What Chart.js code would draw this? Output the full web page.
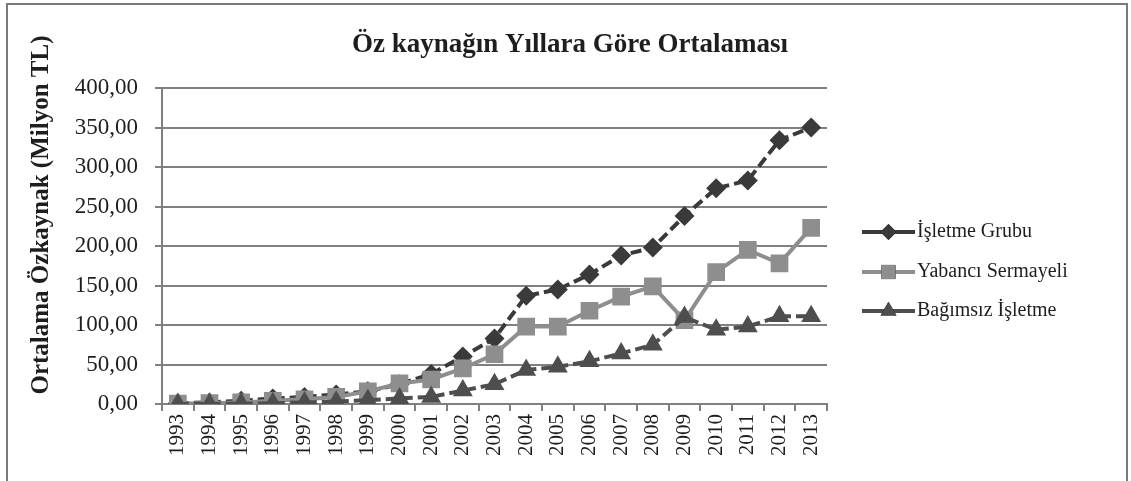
<!DOCTYPE html>
<html>
<head>
<meta charset="utf-8">
<script src="https://cdn.jsdelivr.net/npm/chart.js@4.4.1/dist/chart.umd.min.js"></script>
<style>
  body { margin: 0; background: #fff; }
  #frame { position: absolute; left: 6px; top: 3px; width: 1122px; height: 482px; border: 2px solid #7a7a7a; box-sizing: border-box; }
  #c { position: absolute; left: 0; top: 0; }
</style>
</head>
<body>
<div id="frame"></div>
<canvas id="c" width="1131" height="481"></canvas>
<script>
// ── Data ─────────────────────────────────────────
const years = ['1993','1994','1995','1996','1997','1998','1999','2000','2001','2002','2003',
               '2004','2005','2006','2007','2008','2009','2010','2011','2012','2013'];
const isletmeGrubu    = [1, 2, 4, 7, 9, 12, 16, 25, 38, 60, 83, 137, 145, 164, 188, 198, 238, 273, 283, 334, 350];
const yabanciSermaye  = [0.5, 1, 2, 4, 6, 9, 16, 26, 31, 45, 63, 98, 98, 118, 136, 149, 106, 167, 195, 178, 223];
const bagimsizIsletme = [0, 0, 0.5, 1, 2, 3, 5, 7, 9, 17, 25, 43, 47, 54, 64, 75, 110, 94, 98, 111, 111];
const seriesNames = ['İşletme Grubu', 'Yabancı Sermayeli', 'Bağımsız İşletme'];
const chartTitle = 'Öz kaynağın Yıllara Göre Ortalaması';
const yTitle = 'Ortalama Özkaynak (Milyon TL)';

const C = {
  dark:  '#3a3a3a',
  light: '#8e8e8e',
  mid:   '#4e4e4e',
  grid:  '#808080',
  text:  '#1e1e1e',
};
const SERIF = "'Liberation Serif', 'Times New Roman', serif";

// titles placed like the Excel original (not centred on the plot)
const titles = {
  id: 'titles',
  afterDraw(chart) {
    const ctx = chart.ctx;
    ctx.save();
    ctx.fillStyle = C.text;
    ctx.textAlign = 'center';
    ctx.textBaseline = 'middle';
    ctx.font = 'bold 27px ' + SERIF;
    ctx.fillText(chartTitle, 570, 45);
    ctx.translate(42, 215);
    ctx.rotate(-Math.PI / 2);
    ctx.font = 'bold 25px ' + SERIF;
    ctx.fillText(yTitle, 0, 0);
    ctx.restore();
  },
};

// legend drawn by hand: line + marker + label, like Excel
const sideLegend = {
  id: 'sideLegend',
  afterDraw(chart) {
    const ctx = chart.ctx;
    const x0 = 862, x1 = 915, rows = [232, 272, 311];
    chart.data.datasets.forEach((ds, i) => {
      const y = rows[i];
      ctx.save();
      ctx.strokeStyle = ds.borderColor;
      ctx.lineWidth = 4;
      ctx.beginPath(); ctx.moveTo(x0, y); ctx.lineTo(x1, y); ctx.stroke();
      Chart.helpers.drawPoint(ctx, {
        pointStyle: ds.pointStyle, radius: ds.pointRadius * 0.8, borderWidth: 0,
      }, (x0 + x1) / 2, y);
      ctx.fillStyle = ds.pointBackgroundColor;
      ctx.fill();
      ctx.fillStyle = C.text;
      ctx.font = '20px ' + SERIF;
      ctx.textBaseline = 'middle';
      ctx.fillText(ds.label, x1 + 2, y);
      ctx.restore();
    });
  },
};

new Chart(document.getElementById('c'), {
  type: 'line',
  data: {
    labels: years,
    datasets: [
      { label: seriesNames[0], data: isletmeGrubu, borderColor: C.dark, backgroundColor: C.dark,
        pointBackgroundColor: C.dark, pointBorderColor: C.dark, borderDash: [11, 5],
        pointStyle: 'rectRot', pointRadius: 10, order: 3 },
      { label: seriesNames[1], data: yabanciSermaye, borderColor: C.light, backgroundColor: C.light,
        pointBackgroundColor: C.light, pointBorderColor: C.light,
        pointStyle: 'rect', pointRadius: 12.5, order: 2 },
      { label: seriesNames[2], data: bagimsizIsletme, borderColor: C.mid, backgroundColor: C.mid,
        pointBackgroundColor: C.mid, pointBorderColor: C.mid, borderDash: [11, 5],
        pointStyle: 'triangle', pointRadius: 11.5, order: 1 },
    ].map(d => ({ borderWidth: 4, pointBorderWidth: 0, tension: 0, fill: false, ...d })),
  },
  options: {
    responsive: false,
    animation: false,
    layout: { padding: { left: 0, right: 304, top: 88, bottom: 0 } },
    plugins: {
      legend: { display: false },
      tooltip: { enabled: false },
      title: { display: false },
    },
    scales: {
      x: {
        offset: true,
        grid: { offset: true, drawOnChartArea: false, tickLength: 7, color: C.grid, lineWidth: 2 },
        border: { color: C.grid, width: 2 },
        ticks: { minRotation: 90, maxRotation: 90, autoSkip: false, padding: 3,
                 color: C.text, font: { family: SERIF, size: 21 } },
        afterFit: s => { s.height = 77; },
      },
      y: {
        min: 0, max: 400,
        grid: { color: C.grid, lineWidth: 2, tickLength: 7 },
        border: { color: C.grid, width: 2 },
        ticks: { stepSize: 50, padding: 17, color: C.text, font: { family: SERIF, size: 23 },
                 callback: v => v.toFixed(2).replace('.', ',') },
        afterFit: s => { s.width = 162; },
      },
    },
  },
  plugins: [sideLegend, titles],
});
</script>
</body>
</html>
